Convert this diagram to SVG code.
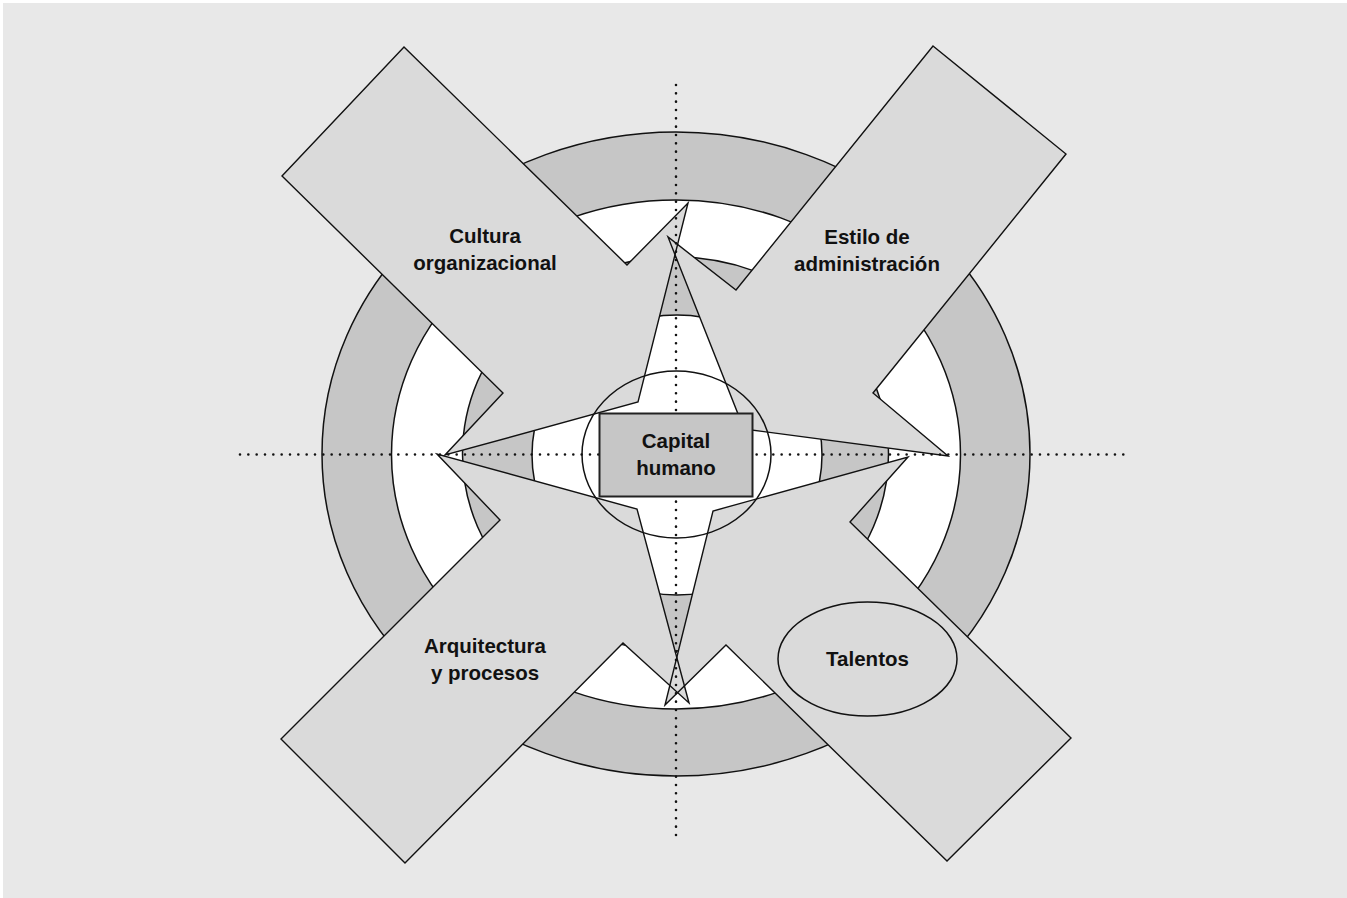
<svg xmlns="http://www.w3.org/2000/svg" width="1347" height="898" viewBox="0 0 1347 898">
  <style>
    .ring-dark { fill: #c6c6c6; stroke: #111; stroke-width: 1.5; }
    .ring-light { fill: #ffffff; stroke: #111; stroke-width: 1.5; }
    .arrow-fill { fill: #dadada; stroke: none; }
    .arrow-line { fill: none; stroke: #111; stroke-width: 1.4; stroke-linejoin: miter; }
    .dots { stroke: #111; stroke-width: 2.6; stroke-linecap: round; stroke-dasharray: 0 8.333; fill: none; }
    .lbl { font-family: "Liberation Sans", Arial, sans-serif; font-weight: bold; font-size: 20.5px; fill: #111; text-anchor: middle; }
  </style>
  <rect x="0" y="0" width="1347" height="898" fill="#ffffff"/>
  <rect x="3" y="3" width="1344" height="895" fill="#e8e8e8"/>

  <g id="rings">
    <ellipse class="ring-dark" cx="676" cy="454" rx="354" ry="322"/>
    <ellipse class="ring-light" cx="676" cy="454.5" rx="284.5" ry="254.5"/>
    <ellipse class="ring-dark" cx="675.5" cy="454" rx="213" ry="197"/>
    <ellipse class="ring-light" cx="677" cy="455" rx="145" ry="140"/>
  </g>

  <g id="arrow-fills">
    <polygon class="arrow-fill" points="404,47 627,265 688,203 638,402 445,455 503,393 282,176"/>
    <polygon class="arrow-fill" points="933,46 1066,154 873,393 948,456 744,429 668,237 736,290"/>
    <polygon class="arrow-fill" points="1071,738 947,861 726,645 665,705 713,511 908,457 850,522"/>
    <polygon class="arrow-fill" points="281,739 500,520 437,454 637,509 689,703 623,643 405,863"/>
  </g>

  <g id="cultura">
    <polygon class="arrow-line" points="404,47 627,265 688,203 638,402 445,455 503,393 282,176"/>
    <text class="lbl" x="485" y="243">Cultura</text>
    <text class="lbl" x="485" y="270">organizacional</text>
  </g>
  <g id="estilo">
    <polygon class="arrow-line" points="933,46 1066,154 873,393 948,456 744,429 668,237 736,290"/>
    <text class="lbl" x="867" y="244">Estilo de</text>
    <text class="lbl" x="867" y="271">administración</text>
  </g>
  <g id="talentos-arrow">
    <polygon class="arrow-line" points="1071,738 947,861 726,645 665,705 713,511 908,457 850,522"/>
  </g>
  <g id="arquitectura">
    <polygon class="arrow-line" points="281,739 500,520 437,454 637,509 689,703 623,643 405,863"/>
    <text class="lbl" x="485" y="653">Arquitectura</text>
    <text class="lbl" x="485" y="680">y procesos</text>
  </g>

  <g id="axes">
    <line class="dots" x1="240" y1="454.5" x2="1123.4" y2="454.5"/>
    <line class="dots" x1="676" y1="85" x2="676" y2="835"/>
  </g>

  <g id="capital-humano">
    <ellipse cx="676.5" cy="454.5" rx="94.5" ry="83.5" fill="none" stroke="#111" stroke-width="1.5"/>
    <rect x="599.5" y="413.5" width="153" height="83" fill="#c6c6c6" stroke="#222" stroke-width="2"/>
    <text class="lbl" x="676" y="448">Capital</text>
    <text class="lbl" x="676" y="475">humano</text>
  </g>

  <g id="talentos">
    <ellipse cx="867.5" cy="659" rx="89.5" ry="57" fill="#dadada" stroke="#111" stroke-width="1.5"/>
    <text class="lbl" x="867.5" y="666">Talentos</text>
  </g>
</svg>
